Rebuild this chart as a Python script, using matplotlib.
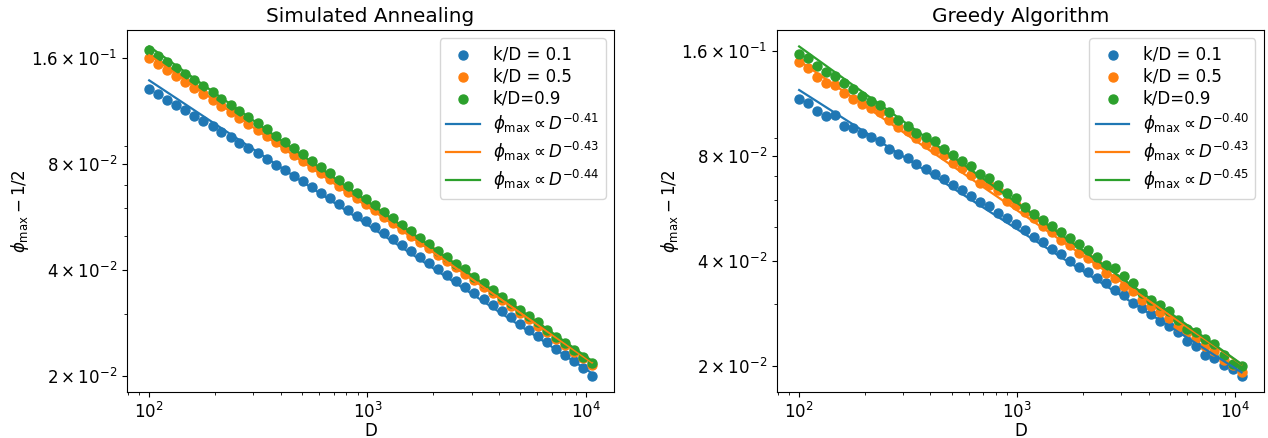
import numpy as np
import matplotlib
matplotlib.use("Agg")
import matplotlib.pyplot as plt
from matplotlib.ticker import LogFormatterSciNotation, NullFormatter

# System size D (ratio 1.1 between consecutive points)
D = [100, 110, 121, 133, 146, 161, 177, 195, 214, 236, 259, 285, 314, 345, 380,
     418, 459, 505, 556, 612, 673, 740, 814, 895, 985, 1083, 1192, 1311, 1442,
     1586, 1745, 1919, 2111, 2323, 2555, 2810, 3091, 3400, 3740, 4114, 4526,
     4979, 5476, 6024, 6626, 7289, 8018, 8820, 9702, 10672]

# Simulated annealing: phi_max - 1/2
sa_k01 = [0.1306, 0.1263, 0.1219, 0.1178, 0.1138, 0.1098, 0.1061, 0.1024, 0.09891,
          0.09545, 0.09210, 0.08883, 0.08575, 0.08270, 0.07974, 0.07688, 0.07415,
          0.07147, 0.06887, 0.06635, 0.06392, 0.06161, 0.05934, 0.05714, 0.05500,
          0.05294, 0.05098, 0.04907, 0.04722, 0.04542, 0.04370, 0.04203, 0.04041,
          0.03886, 0.03736, 0.03590, 0.03450, 0.03315, 0.03185, 0.03059, 0.02939,
          0.02821, 0.02709, 0.02601, 0.02495, 0.02396, 0.02299, 0.02205, 0.02115,
          0.02008]
sa_k05 = [0.1599, 0.1539, 0.1479, 0.1422, 0.1368, 0.1316, 0.1266, 0.1217, 0.1169,
          0.1125, 0.1081, 0.1039, 0.09982, 0.09600, 0.09218, 0.08858, 0.08511,
          0.08176, 0.07852, 0.07541, 0.07241, 0.06952, 0.06675, 0.06408, 0.06155,
          0.05908, 0.05670, 0.05441, 0.05221, 0.05010, 0.04805, 0.04612, 0.04425,
          0.04243, 0.04071, 0.03904, 0.03742, 0.03588, 0.03440, 0.03298, 0.03162,
          0.03031, 0.02905, 0.02784, 0.02667, 0.02555, 0.02449, 0.02346, 0.02247,
          0.02151]
sa_k09 = [0.1691, 0.1625, 0.1561, 0.1501, 0.1442, 0.1386, 0.1331, 0.1279, 0.1228,
          0.1180, 0.1133, 0.1088, 0.1045, 0.1003, 0.09625, 0.09247, 0.08877,
          0.08520, 0.08177, 0.07846, 0.07527, 0.07218, 0.06927, 0.06643, 0.06370,
          0.06112, 0.05860, 0.05618, 0.05386, 0.05163, 0.04949, 0.04742, 0.04546,
          0.04356, 0.04173, 0.04020, 0.03812, 0.03669, 0.03515, 0.03365, 0.03223,
          0.03085, 0.02954, 0.02845, 0.02707, 0.02590, 0.02480, 0.02373, 0.02270,
          0.02173]

# Greedy algorithm: phi_max - 1/2
gr_k01 = [0.1170, 0.1140, 0.1080, 0.1043, 0.1050, 0.09794, 0.09622, 0.09313,
          0.09092, 0.08819, 0.08407, 0.08117, 0.07905, 0.07572, 0.07358, 0.07120,
          0.06864, 0.06599, 0.06389, 0.06155, 0.05893, 0.05766, 0.05507, 0.05322,
          0.05116, 0.04896, 0.04700, 0.04530, 0.04337, 0.04181, 0.04002, 0.03850,
          0.03711, 0.03582, 0.03454, 0.03306, 0.03199, 0.03030, 0.02932, 0.02807,
          0.02697, 0.02600, 0.02500, 0.02357, 0.02282, 0.02146, 0.02100, 0.02010,
          0.01958, 0.01874]
gr_k05 = [0.1490, 0.1431, 0.1355, 0.1300, 0.1282, 0.1214, 0.1170, 0.1133, 0.1101,
          0.1072, 0.1017, 0.09677, 0.09461, 0.09052, 0.08664, 0.08352, 0.08086,
          0.07650, 0.07407, 0.07060, 0.06714, 0.06599, 0.06389, 0.05957, 0.05793,
          0.05518, 0.05305, 0.05040, 0.04859, 0.04606, 0.04446, 0.04210, 0.04068,
          0.03912, 0.03697, 0.03579, 0.03378, 0.03268, 0.03087, 0.02972, 0.02849,
          0.02751, 0.02586, 0.02496, 0.02409, 0.02277, 0.02202, 0.02081, 0.02008,
          0.01920]
gr_k09 = [0.1571, 0.1529, 0.1450, 0.1393, 0.1364, 0.1298, 0.1250, 0.1192, 0.1153,
          0.1126, 0.1072, 0.1019, 0.09774, 0.09355, 0.09110, 0.08821, 0.08409,
          0.08047, 0.07738, 0.07489, 0.07092, 0.06909, 0.06599, 0.06288, 0.06047,
          0.05700, 0.05474, 0.05256, 0.05048, 0.04849, 0.04656, 0.04471, 0.04294,
          0.04094, 0.03892, 0.03825, 0.03630, 0.03461, 0.03234, 0.03095, 0.02996,
          0.02881, 0.02704, 0.02554, 0.02496, 0.02394, 0.02311, 0.02141, 0.02023,
          0.02000]

series_labels = ["k/D = 0.1", "k/D = 0.5", "k/D=0.9"]
sa_exponents = [-0.41, -0.43, -0.44]
gr_exponents = [-0.40, -0.43, -0.45]
yticks = [0.02, 0.04, 0.08, 0.16]
colors = ["#1f77b4", "#ff7f0e", "#2ca02c"]

plt.rcParams["font.size"] = 12

fig = plt.figure(figsize=(12.68, 4.38), dpi=100)
ax1 = fig.add_axes([0.1002, 0.105, 0.3841, 0.8265])
ax2 = fig.add_axes([0.6128, 0.105, 0.3838, 0.8265])

Darr = np.array(D, dtype=float)


def draw(ax, title, data, exps):
    for ys, lab, c in zip(data, series_labels, colors):
        ax.scatter(Darr, ys, color=c, label=lab, s=42, zorder=2)
    for ys, p, c in zip(data, exps, colors):
        ys = np.array(ys)
        logC = np.mean(np.log10(ys) - p * np.log10(Darr))
        ax.plot(Darr, 10 ** logC * Darr ** p, color=c, lw=1.6, zorder=3,
                label=r"$\phi_{\max} \propto D^{%.2f}$" % p)
    ax.set_xscale("log")
    ax.set_yscale("log")
    ax.set_yticks(yticks)
    ax.yaxis.set_major_formatter(LogFormatterSciNotation(labelOnlyBase=False,
                                                         minor_thresholds=(np.inf, np.inf)))
    ax.yaxis.set_minor_formatter(NullFormatter())
    ax.set_xlabel("D", labelpad=0)
    ax.set_ylabel(r"$\phi_{\max} - 1/2$", labelpad=0)
    ax.set_title(title)
    ax.legend(loc="upper right", labelspacing=0.25)


draw(ax1, "Simulated Annealing", [sa_k01, sa_k05, sa_k09], sa_exponents)
draw(ax2, "Greedy Algorithm", [gr_k01, gr_k05, gr_k09], gr_exponents)

fig.savefig("out.png", dpi=100)
